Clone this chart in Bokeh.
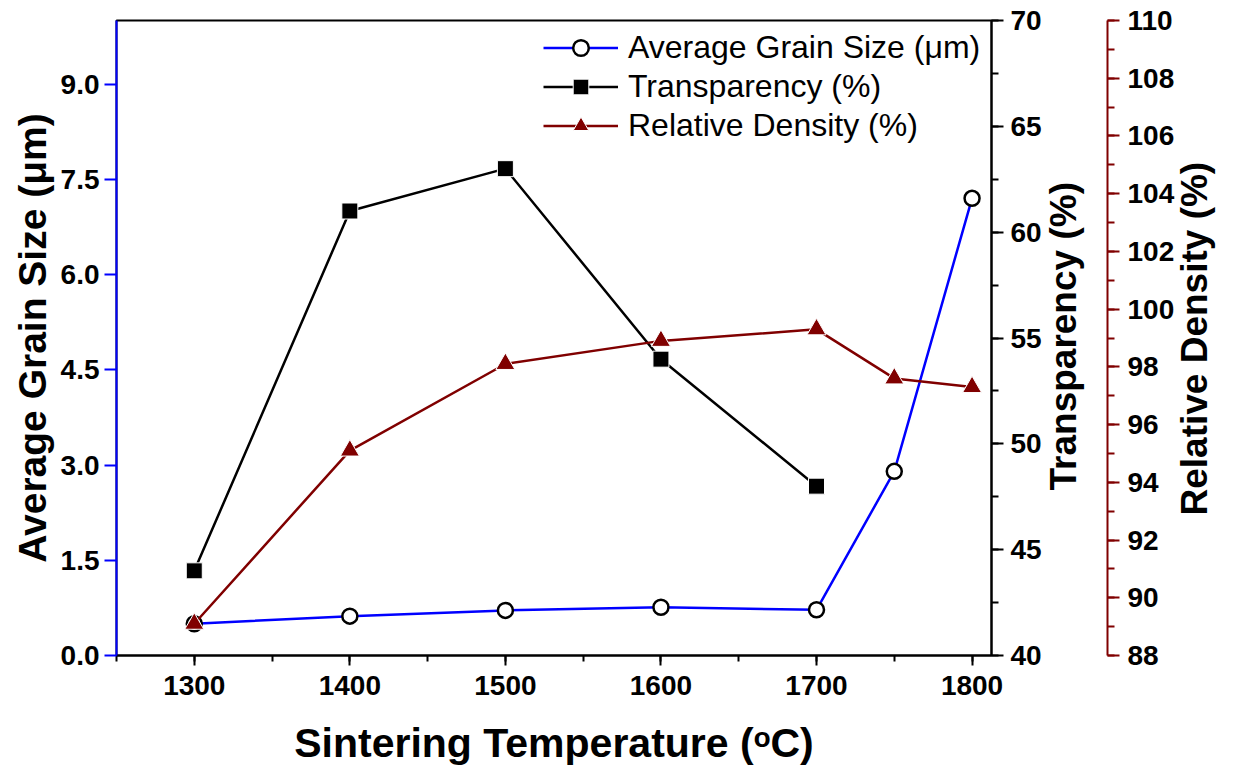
import math
from bokeh.plotting import figure
from bokeh.models import (Range1d, LinearAxis, SingleIntervalTicker, NumeralTickFormatter,
                          FixedTicker, Legend, LegendItem)
from bokeh.embed import file_html
from bokeh.resources import INLINE

# ---- data ----
temp_grain = [1300, 1400, 1500, 1600, 1700, 1750, 1800]
grain_size = [0.50, 0.62, 0.71, 0.76, 0.72, 2.90, 7.20]

temp_trans = [1300, 1400, 1500, 1600, 1700]
transparency = [44.0, 61.0, 63.0, 54.0, 48.0]

temp_dens = [1300, 1400, 1500, 1600, 1700, 1750, 1800]
rel_density = [89.1, 95.1, 98.1, 98.9, 99.3, 97.6, 97.3]

FONT = "Liberation Sans"
BLUE = "#0000FF"
DRED = "#800000"

p = figure(width=1238, height=774, output_backend="svg", toolbar_location=None,
           x_range=Range1d(1250, 1812.5), y_range=Range1d(0, 10),
           min_border_left=116, min_border_right=240, min_border_top=20, min_border_bottom=119)
p.xaxis.visible = False
p.yaxis.visible = False
p.grid.visible = False
p.outline_line_color = "black"
p.outline_line_width = 2
p.background_fill_color = "white"
p.border_fill_color = "white"

# "px" range only positions the rotated right-hand titles
p.extra_y_ranges = {"tr": Range1d(40, 70), "rd": Range1d(88, 110), "px": Range1d(0, 635)}

def style(ax, line_color="black"):
    ax.axis_line_color = line_color
    ax.axis_line_width = 2
    ax.major_tick_line_color = line_color
    ax.minor_tick_line_color = line_color
    ax.major_tick_line_width = 2
    ax.minor_tick_line_width = 2
    ax.major_tick_in = 0
    ax.minor_tick_in = 0
    ax.major_tick_out = 12
    ax.minor_tick_out = 7
    ax.major_label_text_font = FONT
    ax.major_label_text_font_style = "bold"
    ax.major_label_text_font_size = "28px"
    ax.major_label_text_color = "black"
    ax.axis_label_text_font = FONT
    ax.axis_label_text_font_style = "bold"
    ax.axis_label_text_font_size = "37px"
    ax.axis_label_text_color = "black"

def title_axis(text, pos, standoff):
    ax = LinearAxis(y_range_name="px", ticker=FixedTicker(ticks=[pos], minor_ticks=[]),
                    major_label_overrides={pos: text})
    ax.axis_line_color = None
    ax.major_tick_line_color = None
    ax.minor_tick_line_color = None
    ax.major_tick_in = 0
    ax.major_tick_out = 0
    ax.minor_tick_out = 0
    ax.major_label_orientation = math.pi / 2
    ax.major_label_standoff = standoff
    ax.major_label_text_font = FONT
    ax.major_label_text_font_style = "bold"
    ax.major_label_text_font_size = "37px"
    ax.major_label_text_color = "black"
    return ax

xax = LinearAxis(ticker=SingleIntervalTicker(interval=100, num_minor_ticks=2),
                 axis_label="Sintering Temperature (ᵒC)")
style(xax)
xax.major_tick_out = 10
xax.minor_tick_out = 6
xax.major_label_standoff = 10
xax.axis_label_standoff = 22
xax.axis_label_text_font_size = "41px"
p.add_layout(xax, "below")

yax = LinearAxis(ticker=SingleIntervalTicker(interval=1.5, num_minor_ticks=0),
                 formatter=NumeralTickFormatter(format="0.0"),
                 axis_label="Average Grain Size (μm)")
style(yax, BLUE)
yax.major_label_standoff = 5
yax.axis_label_standoff = 4
yax.axis_label_text_font_size = "39px"
p.add_layout(yax, "left")

tax = LinearAxis(y_range_name="tr", ticker=SingleIntervalTicker(interval=5, num_minor_ticks=2))
style(tax)
tax.major_label_standoff = 7
p.add_layout(tax, "right")
p.add_layout(title_axis("Transparency (%)", 165, 19), "right")

dax = LinearAxis(y_range_name="rd", ticker=SingleIntervalTicker(interval=2, num_minor_ticks=2))
style(dax, DRED)
dax.major_label_standoff = 8
p.add_layout(dax, "right")
p.add_layout(title_axis("Relative Density (%)", 140, 17), "right")

# ---- series ----
l1 = p.line(temp_grain, grain_size, line_color=BLUE, line_width=2.5)
s1 = p.scatter(temp_grain, grain_size, marker="circle", size=15, fill_color="white",
               line_color="black", line_width=2.5)

l2 = p.line(temp_trans, transparency, y_range_name="tr", line_color="black", line_width=2.5)
s2 = p.scatter(temp_trans, transparency, y_range_name="tr", marker="square", size=16,
               fill_color="black", line_color="white", line_width=1)

l3 = p.line(temp_dens, rel_density, y_range_name="rd", line_color=DRED, line_width=2.5)
s3 = p.scatter(temp_dens, rel_density, y_range_name="rd", marker="triangle", size=19,
               fill_color=DRED, line_color="white", line_width=1)

legend = Legend(items=[
    LegendItem(label="Average Grain Size (μm)", renderers=[l1, s1]),
    LegendItem(label="Transparency (%)", renderers=[l2, s2]),
    LegendItem(label="Relative Density (%)", renderers=[l3, s3]),
], location=(427, 510))
legend.border_line_color = None
legend.background_fill_alpha = 0
legend.label_text_font = FONT
legend.label_text_font_size = "32px"
legend.label_text_color = "black"
legend.glyph_width = 75
legend.glyph_height = 39
legend.label_height = 39
legend.spacing = 0
legend.padding = 0
legend.margin = 0
legend.label_standoff = 10
p.add_layout(legend, "center")

open("out.html", "w").write(file_html(p, INLINE))
